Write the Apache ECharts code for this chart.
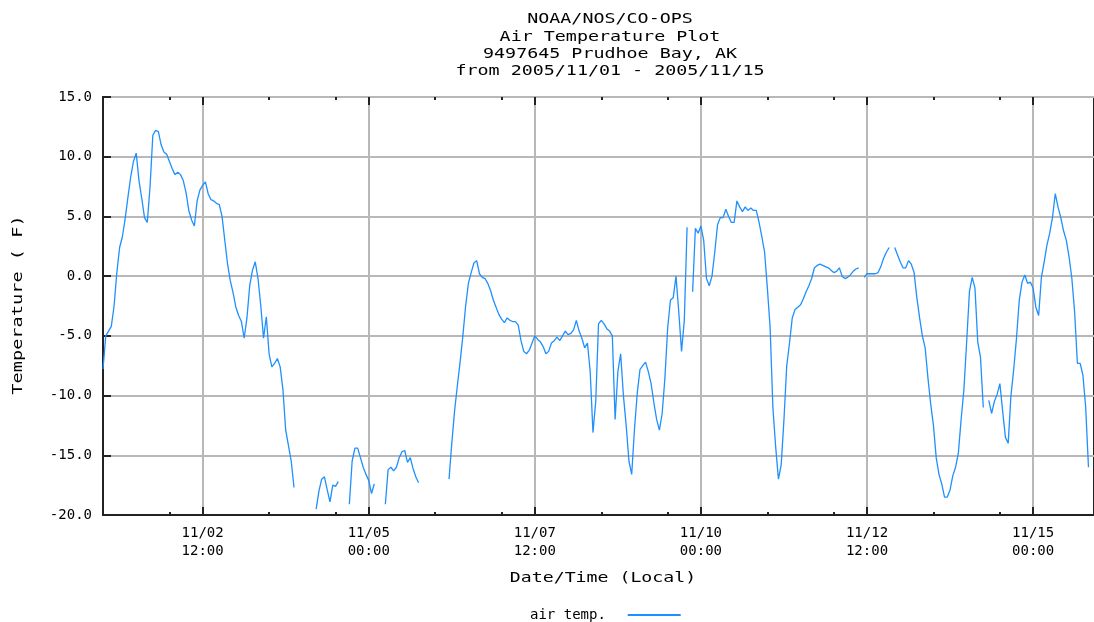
<!DOCTYPE html>
<html>
<head>
<meta charset="utf-8">
<script src="https://cdn.jsdelivr.net/npm/echarts@6/dist/echarts.min.js"></script>
<style>
html,body{margin:0;padding:0;background:#fff;}
#chart{width:1094px;height:622px;}
</style>
</head>
<body>
<div id="chart"></div>
<script>
// Hourly air temperature (F), 9497645 Prudhoe Bay, AK, starting 2005-11-01 00:00 local.
// null = no plotted value (missing or below the -20 plot floor)
const titleLines = ['NOAA/NOS/CO-OPS', 'Air Temperature Plot', '9497645 Prudhoe Bay, AK', 'from 2005/11/01 - 2005/11/15'];
const seriesName = 'air temp.';
const yAxisName = 'Temperature ( F)';
const xAxisName = 'Date/Time (Local)';
const startDate = [2005, 10, 1];           // 2005-11-01 (month is 0-based)
const rangeHours = 358;
const yTicks = [-20, -15, -10, -5, 0, 5, 10, 15];
const majorTickHours = [36, 96, 156, 216, 276, 336];
const minorTickHours = [24, 60, 84, 120, 144, 180, 204, 240, 264, 300, 324];

const day01 = [-7.8,-5.0,-4.6,-4.2,-2.5,0.3,2.4,3.3,4.8,6.6,8.3,9.6,10.3,8.0,6.5,4.9,4.5,7.5,11.8,12.2,12.1,11.0,10.4,10.2];
const day02 = [9.6,9.0,8.5,8.7,8.5,8.0,7.0,5.5,4.7,4.2,6.3,7.2,7.6,7.9,6.9,6.4,6.3,6.1,6.0,5.0,3.0,1.0,-0.4,-1.4];
const day03 = [-2.6,-3.3,-3.8,-5.2,-3.5,-0.8,0.5,1.2,-0.2,-2.5,-5.2,-3.4,-6.5,-7.6,-7.3,-6.9,-7.6,-9.5,-12.9,-14.2,-15.5,-17.7,null,null];
const day04 = [null,null,null,null,null,-19.5,-18.0,-17.0,-16.8,-17.9,-18.9,-17.5,-17.6,-17.2,null,null,null,-19.1,-15.5,-14.4,-14.4,-15.2,-16.0,-16.6];
const day05 = [-17.1,-18.2,-17.4,null,null,null,-19.1,-16.2,-16.0,-16.3,-16.0,-15.2,-14.7,-14.6,-15.6,-15.2,-16.1,-16.8,-17.3,null,null,null,null,null];
const day06 = [null,null,null,null,null,-17.0,-14.0,-11.3,-9.2,-7.2,-5.0,-2.5,-0.6,0.3,1.1,1.3,0.2,-0.1,-0.2,-0.6,-1.2,-2.0,-2.6,-3.2];
const day07 = [-3.6,-3.9,-3.5,-3.7,-3.8,-3.8,-4.1,-5.4,-6.3,-6.5,-6.2,-5.6,-5.0,-5.3,-5.5,-5.9,-6.5,-6.3,-5.6,-5.4,-5.1,-5.4,-5.0,-4.6];
const day08 = [-4.9,-4.8,-4.5,-3.7,-4.6,-5.2,-6.0,-5.6,-8.0,-13.1,-10.5,-4.0,-3.7,-4.0,-4.4,-4.6,-5.0,-12.0,-8.0,-6.5,-10.0,-12.5,-15.5,-16.6];
const day09 = [-12.8,-9.8,-7.8,-7.5,-7.2,-8.0,-9.0,-10.6,-12.0,-12.9,-11.5,-8.5,-4.3,-2.0,-1.8,0.0,-3.0,-6.3,-3.7,4.1,null,-1.3,4.0,3.6];
const day10 = [4.2,3.0,-0.2,-0.8,0.0,2.0,4.3,4.9,4.9,5.6,5.0,4.5,4.5,6.3,5.8,5.4,5.8,5.5,5.7,5.5,5.5,4.5,3.3,2.0];
const day11 = [-1.0,-4.3,-11.0,-14.3,-17.0,-15.8,-12.0,-7.5,-5.6,-3.5,-2.8,-2.6,-2.4,-1.9,-1.3,-0.8,-0.2,0.7,0.9,1.0,0.9,0.8,0.7,0.5];
const day12 = [0.3,0.4,0.7,0.0,-0.2,-0.1,0.1,0.4,0.6,0.7,null,-0.1,0.2,0.2,0.2,0.2,0.3,0.8,1.5,2.0,2.4,null,2.4,1.8];
const day13 = [1.2,0.7,0.7,1.3,1.0,0.3,-1.8,-3.5,-5.0,-6.0,-8.5,-10.7,-12.5,-15.2,-16.6,-17.4,-18.5,-18.5,-17.9,-16.7,-16.0,-14.8,-12.0,-9.5];
const day14 = [-5.5,-1.3,-0.1,-1.0,-5.5,-6.8,-11.0,null,-10.4,-11.5,-10.5,-9.9,-9.0,-11.3,-13.5,-14.0,-10.0,-7.8,-5.2,-2.0,-0.5,0.1,-0.6,-0.5];
const day15 = [-1.0,-2.6,-3.3,-0.1,1.2,2.6,3.6,4.9,6.9,5.8,4.9,3.8,3.0,1.6,-0.2,-3.0,-7.3,-7.3,-8.3,-11.0,-16.0];

const days = [day01,day02,day03,day04,day05,day06,day07,day08,day09,day10,day11,day12,day13,day14,day15];
// x = hours since 2005-11-01 00:00
const data = [];
days.forEach((d, di) => d.forEach((v, hi) => data.push([di * 24 + hi, v])));

const pad = n => (n < 10 ? '0' : '') + n;
const t0 = Date.UTC(startDate[0], startDate[1], startDate[2], 0, 0);
const fmtHour = h => {
  const d = new Date(t0 + h * 3600 * 1000);
  return pad(d.getUTCMonth() + 1) + '/' + pad(d.getUTCDate()) + '\n' + pad(d.getUTCHours()) + ':' + pad(d.getUTCMinutes());
};
const FONT = 'DejaVu Sans Mono';

const chart = echarts.init(document.getElementById('chart'), null, {renderer: 'canvas'});

function extraX(position, vals, len) {
  return {
    type: 'value', position: position, min: 0, max: rangeHours,
    axisLine: {show: false, onZero: false}, axisLabel: {show: false}, splitLine: {show: false},
    axisTick: {show: true, inside: true, length: len, customValues: vals, lineStyle: {color: '#222', width: 2}}
  };
}

const titleGraphics = titleLines.map((t, i) => ({
  type: 'text', x: 610, y: 19.5 + i * 17.4, scaleX: 1.31,
  style: {text: t, fontFamily: FONT, fontSize: 14, fill: '#000', textAlign: 'center', textVerticalAlign: 'middle'}
}));

chart.setOption({
  animation: false,
  backgroundColor: '#fff',
  grid: {left: 103, top: 97, right: -1, bottom: 107, show: true, borderColor: '#222', borderWidth: 2, backgroundColor: 'transparent'},
  legend: {
    show: true, left: 525, top: 603, align: 'right', icon: 'rect', itemWidth: 53, itemHeight: 2,
    formatter: n => n + '  ',
    textStyle: {fontFamily: FONT, fontSize: 14, color: '#000'},
    data: [seriesName]
  },
  graphic: titleGraphics.concat([
    {type: 'text', x: 603, y: 578, scaleX: 1.3,
     style: {text: xAxisName, fontFamily: FONT, fontSize: 14, fill: '#000', textAlign: 'center', textVerticalAlign: 'middle'}},
    {type: 'text', x: 18, y: 305, rotation: Math.PI / 2, scaleX: 1.33,
     style: {text: yAxisName, fontFamily: FONT, fontSize: 14, fill: '#000', textAlign: 'center', textVerticalAlign: 'middle'}}
  ]),
  xAxis: [
    {
      type: 'value', position: 'bottom', min: 0, max: rangeHours,
      axisLine: {show: true, onZero: false, lineStyle: {color: '#222', width: 2}},
      axisTick: {show: true, inside: true, length: 8, customValues: majorTickHours, lineStyle: {color: '#222', width: 2}},
      axisLabel: {show: true, customValues: majorTickHours, formatter: v => fmtHour(v), fontFamily: FONT, fontSize: 14, color: '#000', lineHeight: 18, margin: 9, hideOverlap: false},
      splitLine: {show: true, lineStyle: {color: '#b8b8b8', width: 2}}
    },
    extraX('top', majorTickHours, 8),
    extraX('bottom', minorTickHours, 3),
    extraX('top', minorTickHours, 3)
  ],
  yAxis: {
    type: 'value', min: yTicks[0], max: yTicks[yTicks.length - 1], interval: 5,
    axisLine: {show: true, onZero: false, lineStyle: {color: '#222', width: 2}},
    axisTick: {show: true, inside: true, length: 8, lineStyle: {color: '#222', width: 2}},
    axisLabel: {formatter: v => v.toFixed(1), fontFamily: FONT, fontSize: 14, color: '#000', margin: 11},
    splitLine: {show: true, lineStyle: {color: '#b8b8b8', width: 2}}
  },
  series: [{
    name: seriesName, type: 'line', xAxisIndex: 0, data: data,
    showSymbol: false, symbol: 'none', connectNulls: false, clip: true,
    lineStyle: {color: '#1e90ff', width: 1.3}, itemStyle: {color: '#1e90ff'}
  }]
});
</script>
</body>
</html>
